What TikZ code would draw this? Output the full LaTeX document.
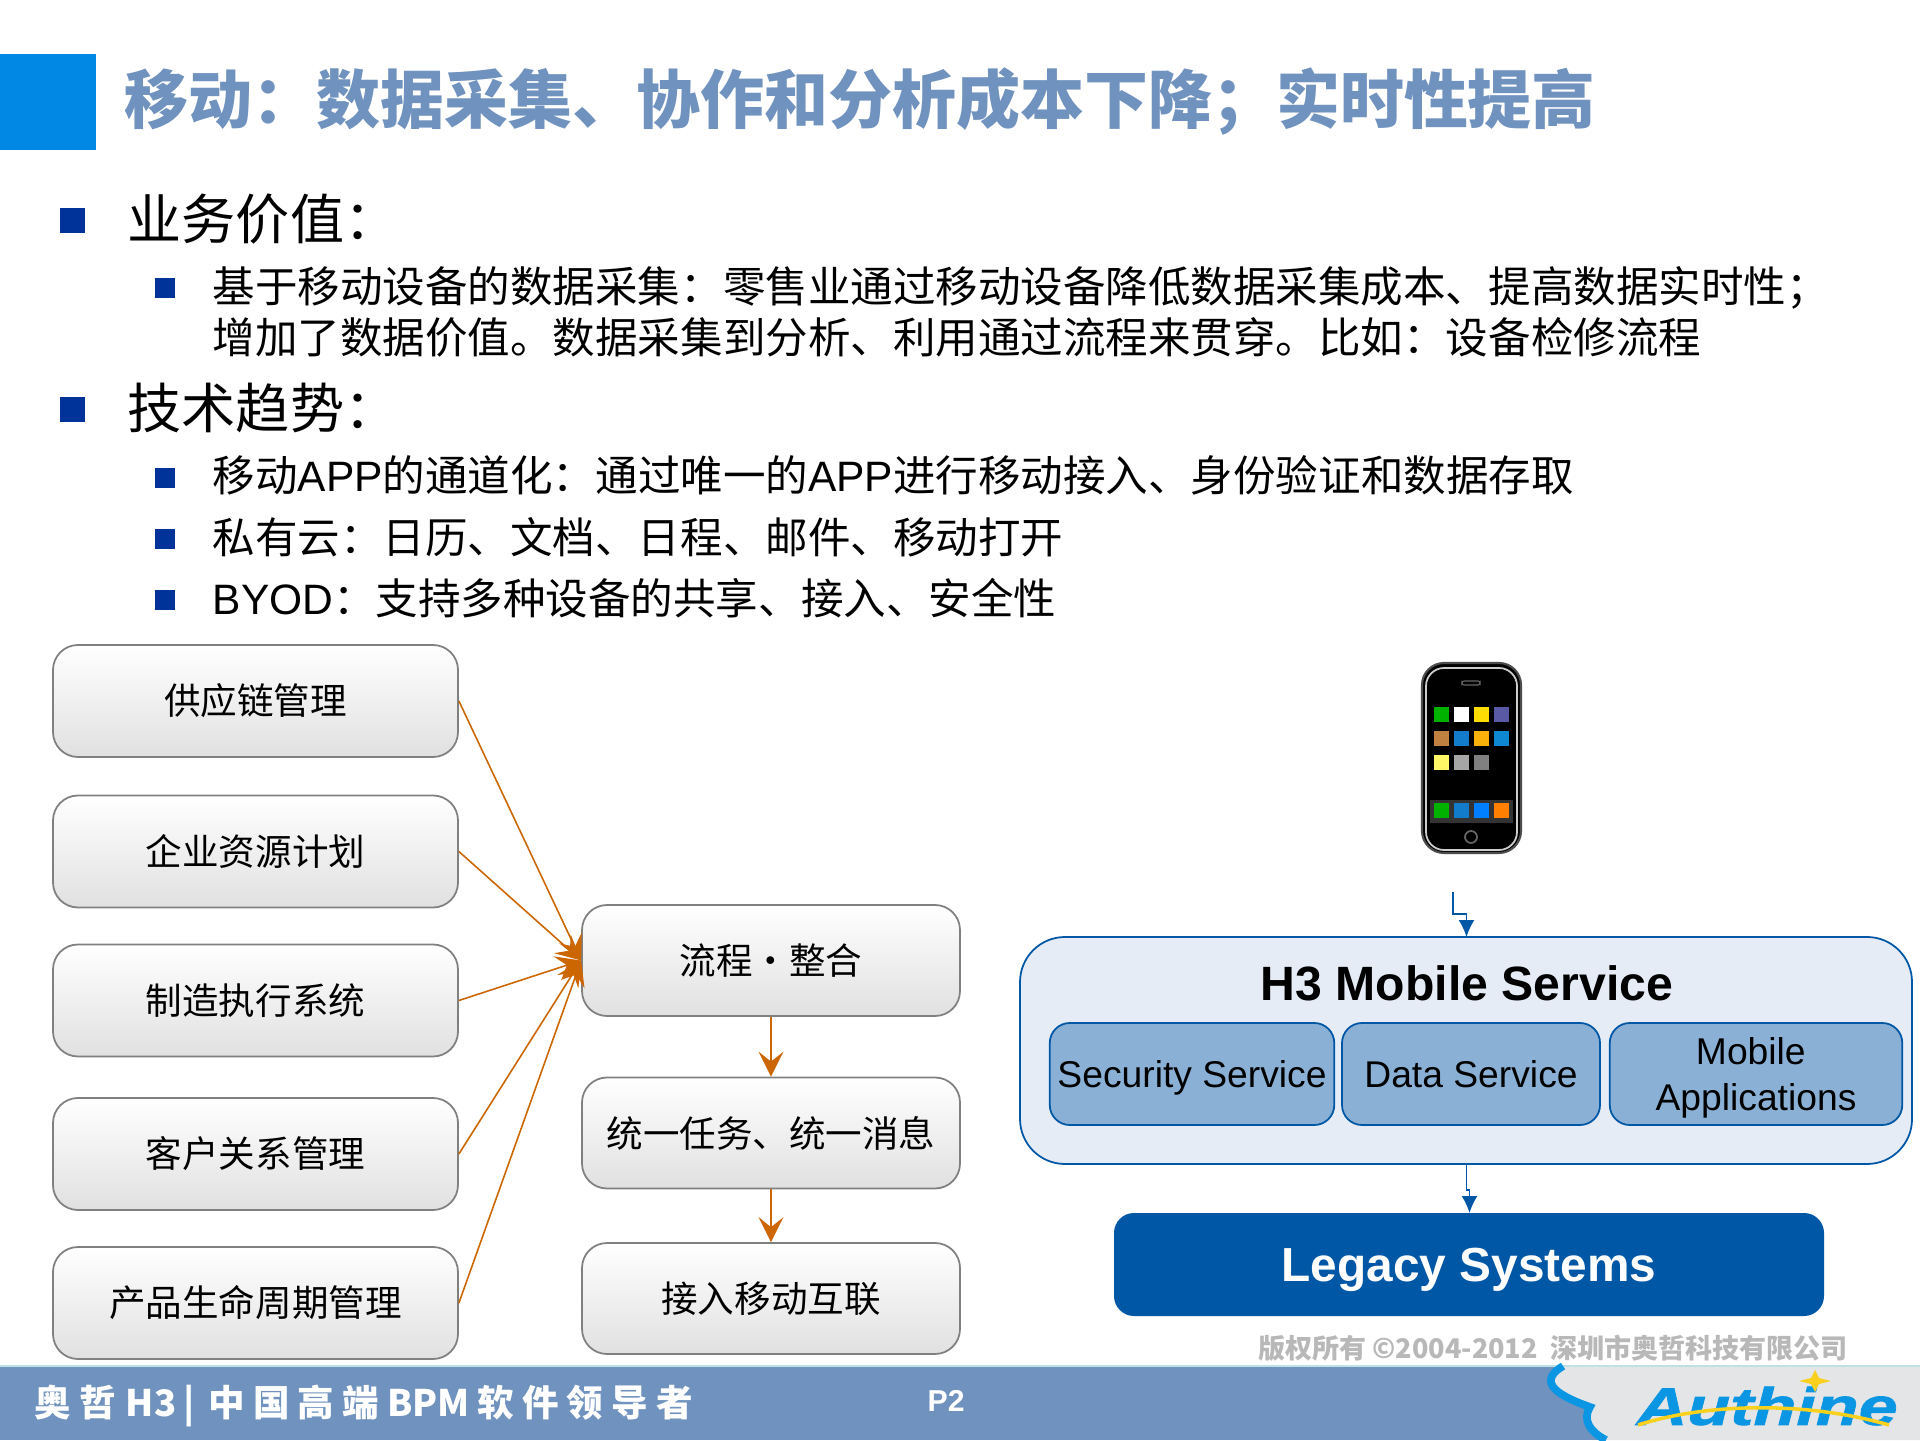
\documentclass[tikz,border=0pt]{standalone}
\usepackage{fontspec}
\usetikzlibrary{arrows.meta}
\setmainfont{Liberation Sans}
\newfontfamily\cjk{Noto Sans CJK SC}
\newfontfamily\footcjk[LetterSpace=22]{Noto Sans CJK SC}
\newfontfamily\logofont[FakeStretch=1.33,FakeBold=1.5]{Liberation Sans}
\newcommand{\zhcolon}{\char"FF1A\relax}
\newcommand{\zhsemi}{\char"FF1B\relax}
\definecolor{titleblue}{RGB}{0, 136, 228}
\definecolor{headblue}{RGB}{112, 146, 190}
\definecolor{bulletblue}{RGB}{0, 51, 153}
\definecolor{linkorange}{RGB}{204, 102, 0}
\definecolor{boxgray}{RGB}{128, 128, 128}
\definecolor{serviceblue}{RGB}{0, 87, 165}
\definecolor{servicepale}{RGB}{229, 236, 246}
\definecolor{servicemid}{RGB}{139, 176, 214}
\definecolor{footblue}{RGB}{112, 146, 190}
\definecolor{footgray}{RGB}{228, 229, 231}
\definecolor{footline}{RGB}{190, 225, 230}
\definecolor{logoblue}{RGB}{10, 150, 226}
\definecolor{logoyellow}{RGB}{250, 208, 30}
\tikzset{
    flowbox/.style={draw=boxgray, line width=0.5pt, rounded corners=0.25cm, top color=white, bottom color=black!12,
        inner sep=0pt, font=\cjk\fontsize{10.4}{12}\selectfont},
    sourcebox/.style={flowbox, minimum width=4.05cm, minimum height=1.12cm},
    stagebox/.style={flowbox, minimum width=3.78cm, minimum height=1.11cm},
    flowlink/.style={draw=linkorange, line width=0.45pt, -{Stealth[length=2.5mm,width=2.5mm,inset=1mm]}},
    servicebox/.style={draw=serviceblue, line width=0.5pt, fill=servicemid, rounded corners=0.2cm, inner sep=0pt,
        minimum height=1.02cm, align=center, text depth=0pt, font=\fontsize{10.6}{13.1}\selectfont},
    servicelink/.style={draw=serviceblue, line width=0.5pt, -{Latex[length=1.7mm,width=1.6mm]}},
    headbullet/.style={fill=bulletblue, inner sep=0pt, minimum size=0.25cm},
    itembullet/.style={fill=bulletblue, inner sep=0pt, minimum size=0.20cm},
    headtext/.style={anchor=west, inner sep=0pt, font=\cjk\fontsize{15.4}{18}\selectfont},
    itemtext/.style={anchor=west, inner sep=0pt, font=\cjk\fontsize{12.1}{14.9}\selectfont},
}
\begin{document}
\begin{tikzpicture}
    \useasboundingbox (0.00, 0.00) rectangle (19.20, 14.40);
    \fill[white]      (0.00, 0.00) rectangle (19.20, 14.40);
    \fill[titleblue]  (0.00,12.90) rectangle ( 0.96,13.86);
    \node[anchor=west, inner sep=0pt, text=headblue, font=\cjk\bfseries\fontsize{18.2}{22}\selectfont] (title) at (1.24,13.38) {移动\zhcolon 数据采集、协作和分析成本下降\zhsemi 实时性提高};

    \node[headbullet] (bulletA)  at (0.72,12.19) {};
    \node[headtext]   (headA)    at (1.27,12.21) {业务价值\zhcolon};
    \node[itembullet] (bulletA1) at (1.65,11.52) {};
    \node[itemtext]   (itemA1)   at (2.12,11.52) {基于移动设备的数据采集\zhcolon 零售业通过移动设备降低数据采集成本、提高数据实时性\zhsemi};
    \node[itemtext]   (itemA2)   at (2.12,11.03) {增加了数据价值。数据采集到分析、利用通过流程来贯穿。比如\zhcolon 设备检修流程};
    \node[headbullet] (bulletB)  at (0.72,10.30) {};
    \node[headtext]   (headB)    at (1.27,10.32) {技术趋势\zhcolon};
    \node[itembullet] (bulletB1) at (1.65, 9.62) {};
    \node[itemtext]   (itemB1)   at (2.12, 9.65) {移动{\rmfamily APP}的通道化\zhcolon 通过唯一的{\rmfamily APP}进行移动接入、身份验证和数据存取};
    \node[itembullet] (bulletB2) at (1.65, 9.01) {};
    \node[itemtext]   (itemB2)   at (2.12, 9.03) {私有云\zhcolon 日历、文档、日程、邮件、移动打开};
    \node[itembullet] (bulletB3) at (1.65, 8.40) {};
    \node[itemtext]   (itemB3)   at (2.12, 8.42) {{\rmfamily BYOD}\zhcolon 支持多种设备的共享、接入、安全性};

    \node[sourcebox] (supply)  at (2.555,7.39) {供应链管理};
    \node[sourcebox] (erp)     at (2.555,5.885) {企业资源计划};
    \node[sourcebox] (mes)     at (2.555,4.395) {制造执行系统};
    \node[sourcebox] (crm)     at (2.555,2.86) {客户关系管理};
    \node[sourcebox] (plm)     at (2.555,1.37) {产品生命周期管理};
    \node[stagebox]  (process) at (7.71,4.795) {流程•整合};
    \node[stagebox]  (unified) at (7.71,3.07) {统一任务、统一消息};
    \node[stagebox]  (access)  at (7.71,1.415) {接入移动互联};
    \foreach \source in {supply, erp, mes, crm, plm}
        \draw[flowlink] (\source.east) -- (process.west);
    \draw[flowlink] (process) -- (unified);
    \draw[flowlink] (unified) -- (access);

    \node[draw=serviceblue, line width=0.5pt, fill=servicepale, rounded corners=0.45cm, minimum width=8.92cm, minimum height=2.27cm] (mobile) at (14.66,3.895) {};
    \node[inner sep=0pt, font=\bfseries\fontsize{13.7}{17}\selectfont] (mobiletitle) at (14.67,4.57) {H3 Mobile Service};
    \node[servicebox, minimum width=2.845cm] (security) at (11.92,3.66) {Security Service};
    \node[servicebox, minimum width=2.58cm]  (data)     at (14.71,3.66) {Data Service};
    \node[servicebox, minimum width=2.925cm] (apps)     at (17.56,3.66) {Mobile\ \ \\Applications};
    \node[fill=serviceblue, rounded corners=0.2cm, minimum width=7.10cm, minimum height=1.03cm, text=white, text depth=0pt, font=\bfseries\fontsize{13.6}{16}\selectfont] (legacy) at (14.69,1.755) {Legacy Systems};

    \coordinate (phonefoot)  at (14.53,5.48);
    \coordinate (mobiletop)  at (14.665,5.03);
    \coordinate (mobilefoot) at (14.665,2.76);
    \coordinate (legacytop)  at (14.695,2.27);
    \draw[servicelink] (phonefoot) |- (14.665,5.26) -- (mobiletop);
    \draw[servicelink] (mobilefoot) -- (14.665,2.50) -- (14.695,2.50) -- (legacytop);

    \filldraw[draw=black!70, fill=black, line width=0.6pt, rounded corners=0.22cm] (14.22,5.87) rectangle (15.21,7.77);
    \draw[white!80!black, line width=0.5pt, rounded corners=0.18cm] (14.26,5.90) rectangle (15.17,7.72);
    \draw[black!60, line width=0.3pt, rounded corners=0.02cm] (14.62,7.55) rectangle (14.80,7.59);
    \fill[black!80] (14.30,6.17) rectangle (15.13,6.40);
    \draw[black!60, line width=0.5pt] (14.71,6.03) circle (0.06);
    \foreach \iconx/\icony/\iconcolor in {
        14.41/7.25/green!70!black, 14.61/7.25/white, 14.81/7.25/yellow!80!orange, 15.01/7.25/gray!70!blue,
        14.41/7.01/brown, 14.61/7.01/cyan!60!blue, 14.81/7.01/yellow!70!red, 15.01/7.01/cyan!70!blue,
        14.41/6.77/yellow!60, 14.61/6.77/gray!70, 14.81/6.77/gray,
        14.41/6.29/green!70!black, 14.61/6.29/cyan!60!blue, 14.81/6.29/blue!50!cyan, 15.01/6.29/orange}
        \fill[\iconcolor] (\iconx-0.075,\icony-0.075) rectangle (\iconx+0.075,\icony+0.075);

    \node[inner sep=0pt, text=black!28, font=\cjk\bfseries\fontsize{7.7}{10}\selectfont] (copyright) at (15.53,0.92) {版权所有 ©2004-2012 \ 深圳市奥哲科技有限公司};

    \fill[footblue] (0.00,0.00) rectangle (19.20,0.74);
    \fill[footgray] (15.63,0.74) .. controls (15.40,0.60) and (15.50,0.47) .. (15.90,0.33) .. controls (15.82,0.20) and (15.90,0.08) .. (16.06,0.00) -- (19.20,0.00) -- (19.20,0.74) -- cycle;
    \draw[footline, line width=0.4pt] (0.00,0.74) -- (19.20,0.74);
    \draw[logoblue, line width=2.2pt] (15.63,0.74) .. controls (15.40,0.60) and (15.50,0.47) .. (15.90,0.33) .. controls (15.82,0.20) and (15.90,0.08) .. (16.06,0.00);
    \node[anchor=west, inner sep=0pt, text=white, font=\bfseries\fontsize{10.4}{12}\selectfont] (slogan) at (0.34,0.34) {\cjk{\footcjk 奥哲}\hspace{0.10cm}H3\hspace{0.07cm}|\hspace{0.14cm}{\footcjk 中国高端}\hspace{0.08cm}BPM\hspace{0.08cm}{\footcjk 软件领导者}};
    \node[anchor=west, inner sep=0pt, text=white, font=\bfseries\fontsize{8.6}{10}\selectfont] (pagenum) at (9.27,0.39) {P2};
    \node[anchor=west, inner sep=0pt, text=logoblue, font=\logofont\bfseries\itshape\fontsize{15}{18}\selectfont] (logo) at (16.36,0.34) {Authine};
    \draw[logoyellow, line width=1pt] (16.38,0.15) .. controls (17.10,0.38) and (18.10,0.38) .. (18.89,0.15);
    \fill[logoyellow] (18.15,0.70) -- (18.19,0.62) -- (18.31,0.59) -- (18.19,0.56) -- (18.15,0.48) -- (18.11,0.56) -- (17.99,0.59) -- (18.11,0.62) -- cycle;
\end{tikzpicture}
\end{document}
